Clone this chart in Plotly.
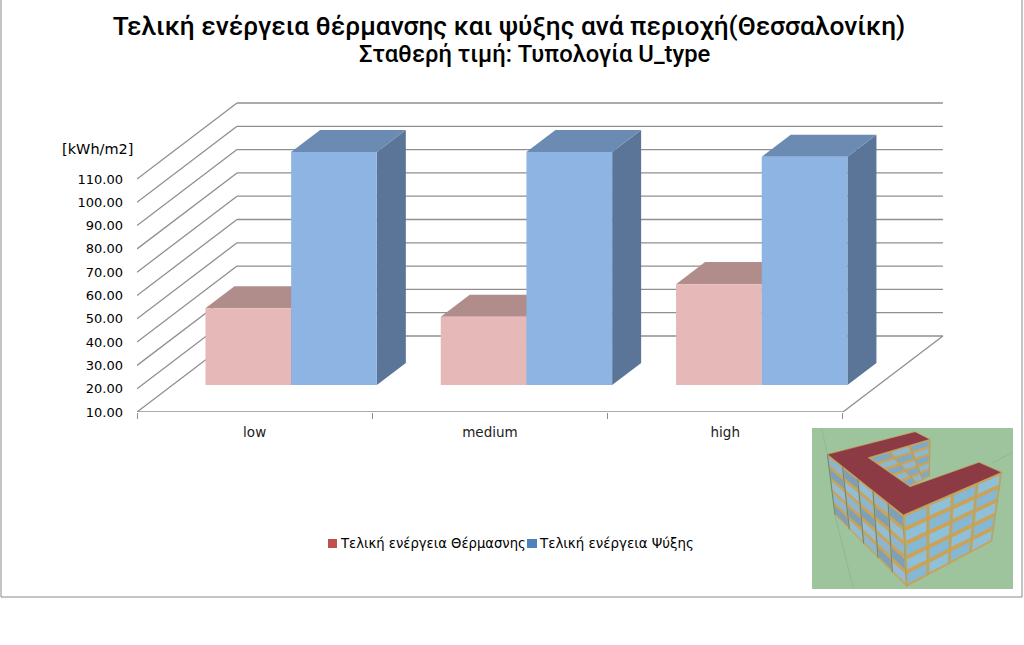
import plotly.graph_objects as go

# values
categories = ["low", "medium", "high"]
heating = [42.9, 39.3, 53.3]
cooling = [110.0, 110.0, 108.0]
y_ticks = [10, 20, 30, 40, 50, 60, 70, 80, 90, 100, 110]
heating_name = "Τελική ενέργεια Θέρμασνης"
cooling_name = "Τελική ενέργεια Ψύξης"

W, H = 1024, 645
L, R, T, B = 137, 945, 102, 412  # plot area in page pixels
X_UNIT = 235.3                   # pixels per category
Y_UNIT = 2.33                    # pixels per kWh/m2
DEPTH_X = 100 / X_UNIT           # full depth of the floor, in axis units
DEPTH_Y = 76 / Y_UNIT
GRID = "#8f8f8f"


def px(x):
    return (x - L) / (R - L)


def py(y):
    return (B - y) / (B - T)


def paper_path(points):
    return "M " + " L ".join(f"{px(a):.5f},{py(b):.5f}" for a, b in points) + " Z"


def project(x, v, d):
    # oblique projection: d=0 front edge of the floor, d=1 back wall
    return x + DEPTH_X * d, v + DEPTH_Y * d


fig = go.Figure()


def face(corners, color):
    xs, ys = zip(*[project(*c) for c in corners])
    fig.add_trace(go.Scatter(x=list(xs) + [xs[0]], y=list(ys) + [ys[0]], mode="lines", fill="toself",
                             fillcolor=color, line=dict(width=0), showlegend=False, hoverinfo="skip"))


def box(x0, x1, v, front, top, side):
    d0, d1 = 0.355, 0.645
    face([(x1, 10, d0), (x1, 10, d1), (x1, v, d1), (x1, v, d0)], side)
    face([(x0, v, d0), (x0, v, d1), (x1, v, d1), (x1, v, d0)], top)
    face([(x0, 10, d0), (x1, 10, d0), (x1, v, d0), (x0, v, d0)], front)


# walls and floor, under the bars
shapes = []
line = dict(color=GRID, width=1.3)
for t in y_ticks:
    bx, by = project(0, t, 1)
    shapes.append(dict(type="line", xref="x", yref="y", x0=0, y0=t, x1=bx, y1=by, line=line, layer="below"))
    shapes.append(dict(type="line", xref="x", yref="y", x0=bx, y0=by, x1=3 + DEPTH_X, y1=by, line=line, layer="below"))
shapes.append(dict(type="line", xref="x", yref="y", x0=3, y0=10, x1=3 + DEPTH_X, y1=10 + DEPTH_Y,
                   line=line, layer="below"))
shapes.append(dict(type="line", xref="x", yref="y", x0=0, y0=10, x1=3, y1=10, line=line, layer="below"))

BAR_START = 0.14
BAR_W = 85.7 / X_UNIT
for i in range(len(categories)):
    x0 = i + BAR_START
    box(x0, x0 + BAR_W, heating[i], "#E6B9B8", "#B08C8B", "#A07E7D")
    box(x0 + BAR_W, x0 + 2 * BAR_W, cooling[i], "#8EB4E3", "#6C8BB3", "#5A7598")

# frame of the chart area
shapes.append(dict(type="rect", xref="paper", yref="paper", x0=px(1), y0=py(597), x1=px(1022), y1=py(-2),
                   line=dict(color="#8a8a8a", width=1), layer="below"))

# legend swatches
shapes.append(dict(type="rect", xref="paper", yref="paper", x0=px(328), x1=px(337), y0=py(548), y1=py(539),
                   fillcolor="#C0504D", line=dict(width=0)))
shapes.append(dict(type="rect", xref="paper", yref="paper", x0=px(527), x1=px(537), y0=py(548), y1=py(539),
                   fillcolor="#4F81BD", line=dict(width=0)))


# inset picture of the building, corners at 3x
def z(a, b):
    return 800 + a / 3, 420 + b / 3


def lerp(p, q, t):
    return p[0] + (q[0] - p[0]) * t, p[1] + (q[1] - p[1]) * t


def poly(points, color, edge=None):
    shapes.append(dict(type="path", xref="paper", yref="paper", path=paper_path(points), fillcolor=color,
                       line=dict(color=edge, width=0.7) if edge else dict(width=0)))


def wall(a, b, c, d, cols, rows, glass, mullion):
    # a-b top edge, d-c bottom edge
    poly([a, b, c, d], "#C9A35A")
    for i in range(cols):
        for j in range(rows):
            u0, u1 = (i + 0.07) / cols, (i + 0.93) / cols
            v0, v1 = (j + 0.16) / rows, (j + 0.84) / rows
            corners = [lerp(lerp(a, d, v), lerp(b, c, v), u) for u, v in
                       [(u0, v0), (u1, v0), (u1, v1), (u0, v1)]]
            poly(corners, glass[(i + j) % len(glass)])
    for i in range(cols + 1):
        u = i / cols
        shapes.append(dict(type="line", xref="paper", yref="paper", x0=px(lerp(a, b, u)[0]), y0=py(lerp(a, b, u)[1]),
                           x1=px(lerp(d, c, u)[0]), y1=py(lerp(d, c, u)[1]), line=dict(color=mullion, width=1)))


poly([(812, 428), (1013, 428), (1013, 589), (812, 589)], "#9DC49C")
for a, b in [((65, 25), (82, 103)), ((105, 285), (160, 505)), ((575, 130), (638, 97))]:
    shapes.append(dict(type="line", xref="paper", yref="paper", x0=px(z(*a)[0]), y0=py(z(*a)[1]),
                       x1=px(z(*b)[0]), y1=py(z(*b)[1]), line=dict(color="#8FB590", width=0.8)))
wall(z(205, 113), z(390, 58), z(388, 170), z(330, 200), 3, 5, ["#7FA9C4", "#8DB8D0"], "#B59C62")
wall(z(82, 103), z(310, 285), z(320, 500), z(105, 285), 5, 5, ["#8DB6CE", "#7E9FB8", "#93BDD5"], "#5F8A84")
wall(z(310, 285), z(605, 157), z(575, 365), z(320, 500), 4, 5, ["#85B8D4", "#8FC0DA"], "#A8A874")
poly([z(82, 103), z(345, 35), z(390, 58), z(205, 113), z(330, 200), z(537, 127), z(605, 157), z(310, 285)],
     "#8C3B45", "#C9A35A")

annotations = [
    dict(text="Σταθερή τιμή: Τυπολογία U_type", x=px(535), y=py(54.5),
         font=dict(size=23.8, family="Roboto", weight=500)),
    dict(text="[kWh/m2]", x=px(97), y=py(149), font=dict(size=14.5, family="DejaVu Sans", weight=500)),
    dict(text=heating_name, x=px(337.5), y=py(543), xanchor="left", font=dict(size=13.2, family="DejaVu Sans")),
    dict(text=cooling_name, x=px(536.5), y=py(543), xanchor="left", font=dict(size=13.4, family="DejaVu Sans")),
]
for a in annotations:
    a.update(xref="paper", yref="paper", showarrow=False)
    a.setdefault("xanchor", "center")
    a["yanchor"] = "middle"

fig.update_layout(
    width=W,
    height=H,
    autosize=False,
    margin=dict(l=L, r=W - R, t=T, b=H - B),
    paper_bgcolor="white",
    plot_bgcolor="white",
    showlegend=False,
    font=dict(family="Open Sans", color="black"),
    title=dict(text="Τελική ενέργεια θέρμανσης και ψύξης ανά περιοχή(Θεσσαλονίκη)", x=509 / W, xanchor="center",
               y=1 - 26 / H, yanchor="middle", font=dict(size=26.3, family="Roboto", weight=500)),
    shapes=shapes,
    annotations=annotations,
    xaxis=dict(range=[0, (R - L) / X_UNIT], tickmode="array", tickvals=[0.5, 1.5, 2.5], ticktext=categories,
               ticks="", showgrid=False, zeroline=False, showline=False, ticklabelstandoff=10,
               tickfont=dict(size=13.5, family="DejaVu Sans", color="#222"),
               minor=dict(tickmode="array", tickvals=[0, 1, 2, 3], ticks="outside", ticklen=6, tickcolor=GRID, tickwidth=1)),
    yaxis=dict(range=[10, 10 + (B - T) / Y_UNIT], tickmode="array", tickvals=y_ticks, ticks="", tickformat=".2f",
               showgrid=False, zeroline=False, showline=False, ticklabelstandoff=13,
               tickfont=dict(size=13, family="DejaVu Sans", color="black", weight=500)),
)

# the page's default body margin would shift the figure by 8px
fig.write_html("out.html", config=dict(displayModeBar=False),
               post_script="document.body.style.margin='0';document.body.style.overflow='hidden';")
